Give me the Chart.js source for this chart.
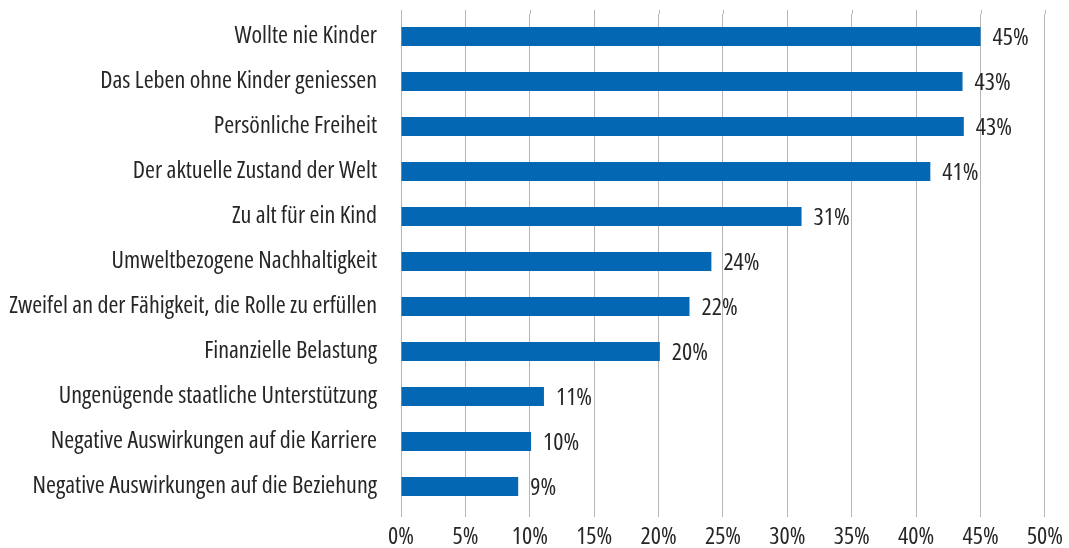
<!DOCTYPE html>
<html>
<head>
<meta charset="utf-8">
<script src="https://cdn.jsdelivr.net/npm/chart.js@4"></script>
<style>
  html, body { margin: 0; padding: 0; background: #fff; }
  #wrap { width: 1069px; height: 548px; }
</style>
</head>
<body>
<div id="wrap"><canvas id="reasonsChart"></canvas></div>
<script>
const reasons = [
    'Wollte nie Kinder',
    'Das Leben ohne Kinder geniessen',
    'Persönliche Freiheit',
    'Der aktuelle Zustand der Welt',
    'Zu alt für ein Kind',
    'Umweltbezogene Nachhaltigkeit',
    'Zweifel an der Fähigkeit, die Rolle zu erfüllen',
    'Finanzielle Belastung',
    'Ungenügende staatliche Unterstützung',
    'Negative Auswirkungen auf die Karriere',
    'Negative Auswirkungen auf die Beziehung'
];
const shares = [45.0, 43.6, 43.7, 41.1, 31.1, 24.1, 22.4, 20.1, 11.1, 10.1, 9.1];
const shareLabels = ['45%', '43%', '43%', '41%', '31%', '24%', '22%', '20%', '11%', '10%', '9%'];
const xTicks = [0, 5, 10, 15, 20, 25, 30, 35, 40, 45, 50];

// condensed Open Sans (width axis) is the closest to the original's narrow face
const FONT = '"Open Sans", sans-serif';
const STRETCH = 'condensed';   // goes into the font string before the size
const TEXT = '#262626';
const GRID = '#b5b5b5';

// value labels to the right of each bar
const valueLabels = {
    id: 'valueLabels',
    afterDatasetsDraw(chart) {
        const ctx = chart.ctx;
        const meta = chart.getDatasetMeta(0);
        ctx.save();
        ctx.font = 'normal ' + STRETCH + ' 24px ' + FONT;
        ctx.fillStyle = TEXT;
        ctx.textAlign = 'left';
        ctx.textBaseline = 'middle';
        meta.data.forEach((bar, i) => {
            ctx.fillText(shareLabels[i], bar.x + 12, bar.y + 2);
        });
        ctx.restore();
    }
};

// gridlines poke a few px above the plot area in the original
const gridTop = {
    id: 'gridTop',
    beforeDatasetsDraw(chart) {
        const ctx = chart.ctx;
        const x = chart.scales.x;
        const top = chart.chartArea.top;
        ctx.save();
        ctx.strokeStyle = GRID;
        ctx.lineWidth = 1;
        xTicks.forEach(v => {
            const px = Math.round(x.getPixelForValue(v)) + 0.5;
            ctx.beginPath();
            ctx.moveTo(px, top - 4);
            ctx.lineTo(px, top);
            ctx.stroke();
        });
        ctx.restore();
    }
};

const ctx = document.getElementById('reasonsChart').getContext('2d');
new Chart(ctx, {
    type: 'bar',
    data: {
        labels: reasons,
        datasets: [{
            data: shares,
            backgroundColor: '#0367b4',
            borderWidth: 0,
            categoryPercentage: 0.42,
            barPercentage: 1
        }]
    },
    options: {
        indexAxis: 'y',
        responsive: true,
        maintainAspectRatio: false,
        animation: false,
        layout: { padding: { top: 14, right: 24, left: 0, bottom: 0 } },
        plugins: {
            legend: { display: false },
            tooltip: { enabled: false }
        },
        scales: {
            x: {
                min: 0,
                max: 50,
                afterBuildTicks: (scale) => {
                    scale.ticks = xTicks.map(v => ({ value: v }));
                },
                afterFit: (scale) => { scale.height = 39; },
                grid: {
                    color: GRID,
                    lineWidth: 1,
                    tickLength: 8,
                    drawTicks: true
                },
                border: { display: false },
                ticks: {
                    color: TEXT,
                    font: { family: FONT, size: 24, weight: STRETCH },
                    padding: 6,
                    maxRotation: 0,
                    callback: (v) => v + '%'
                }
            },
            y: {
                afterFit: (scale) => {
                    scale.width = 401;
                    scale.paddingTop = 0;
                    scale.paddingBottom = 0;
                },
                grid: { display: false, drawTicks: false },
                border: { display: false },
                ticks: {
                    color: TEXT,
                    font: { family: FONT, size: 24, weight: STRETCH },
                    padding: 24
                }
            }
        }
    },
    plugins: [valueLabels, gridTop]
});
</script>
</body>
</html>
